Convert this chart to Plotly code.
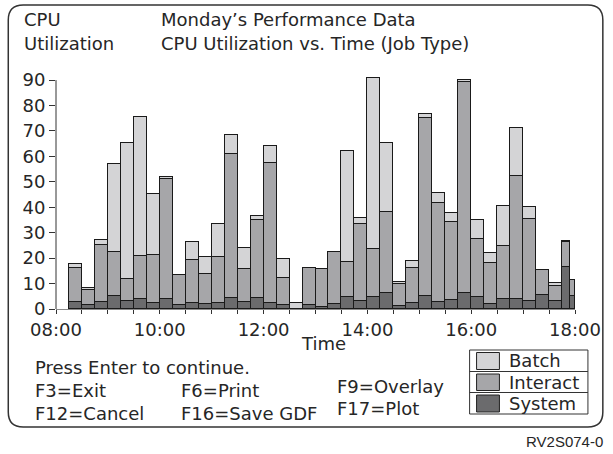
import plotly.graph_objects as go

# ---- data ----
start_times = ["08:15", "08:30", "08:45", "09:00", "09:15", "09:30", "09:45",
               "10:00", "10:15", "10:30", "10:45", "11:00", "11:15", "11:30",
               "11:45", "12:00", "12:15", "12:30", "12:45", "13:00", "13:15",
               "13:30", "13:45", "14:00", "14:15", "14:30", "14:45", "15:00",
               "15:15", "15:30", "15:45", "16:00", "16:15", "16:30", "16:45",
               "17:00", "17:15", "17:30", "17:45", "17:54"]
width_minutes = [15] * 38 + [9, 6]

system = [2.7, 1.5, 2.6, 5.1, 3.1, 4.1, 2.5, 3.9, 1.5, 2.3, 1.9, 2.4, 4.4, 2.8,
          4.4, 2.3, 1.4, 0.0, 1.6, 0.8, 1.9, 4.8, 3.3, 4.6, 6.3, 1.2, 2.2, 5.2,
          2.9, 3.7, 6.1, 4.8, 2.1, 3.9, 3.9, 3.3, 5.4, 3.3, 16.7, 5.2]
interact = [13.4, 5.8, 22.5, 17.3, 8.8, 16.7, 18.8, 47.3, 11.7, 16.8, 11.8,
            18.0, 56.4, 12.8, 30.7, 55.0, 10.6, 0.0, 14.5, 15.0, 20.5, 13.8,
            30.1, 19.1, 32.0, 8.6, 13.9, 70.0, 38.7, 30.4, 83.1, 22.8, 16.0,
            21.0, 48.4, 31.9, 9.9, 5.7, 9.7, 6.3]
batch = [1.7, 0.9, 2.0, 34.8, 53.2, 54.6, 24.0, 0.6, 0.0, 7.2, 6.8, 13.1, 7.5,
         8.5, 1.5, 6.7, 7.6, 2.4, 0.0, 0.0, 0.0, 43.5, 2.3, 67.2, 26.8, 0.8,
         2.7, 1.3, 3.9, 3.7, 0.8, 7.3, 3.9, 15.7, 18.7, 5.1, 0.0, 1.2, 0.5, 0.0]

x_tick_hours = [8 + 0.5 * i for i in range(21)]
x_tick_labels = ["08:00", "10:00", "12:00", "14:00", "16:00", "18:00"]
y_ticks = list(range(0, 91, 10))

series_names = ["System", "Interact", "Batch"]
series_colors = ["#6b6b6d", "#a6a6a9", "#d4d4d6"]

# ---- derived ----
def to_hours(t):
    h, m = t.split(":")
    return int(h) + int(m) / 60.0

xs = [to_hours(t) for t in start_times]
ws = [w / 60.0 for w in width_minutes]

W, H = 613, 454
L, R, T, B = 56, 35, 75, 145
PW, PH = W - L - R, H - T - B

def px(x):
    return (x - L) / PW

def py(y):
    return (H - B - y) / PH

FONT = "DejaVu Sans"
TXT = "#262626"

fig = go.Figure()
for name, vals, col in zip(series_names, [system, interact, batch], series_colors):
    fig.add_trace(go.Bar(
        x=xs, y=vals, width=ws, offset=0, name=name,
        marker=dict(color=col, line=dict(color="#1a1a1a", width=1)),
        showlegend=False,
    ))

tick_text = []
for h in x_tick_hours:
    lab = "%02d:00" % int(round(h))
    if abs(h - round(h)) < 1e-9 and lab in x_tick_labels:
        tick_text.append(lab)
    else:
        tick_text.append("")

fig.update_layout(
    width=W, height=H,
    margin=dict(l=L, r=R, t=T, b=B, pad=0),
    paper_bgcolor="white", plot_bgcolor="white",
    barmode="stack", bargap=0,
    font=dict(family=FONT, size=18, color=TXT),
    xaxis=dict(range=[8, 18], tickvals=x_tick_hours, ticktext=tick_text,
               ticks="outside", ticklen=4, tickcolor="#333333", tickwidth=1,
               showgrid=False, zeroline=False, showline=True,
               linecolor="#8a8a8a", linewidth=1,
               tickfont=dict(size=18, color=TXT, family=FONT)),
    yaxis=dict(range=[0, 92], tickvals=y_ticks,
               ticks="outside", ticklen=6, tickcolor="#333333", tickwidth=1,
               showgrid=False, zeroline=False, showline=False,
               tickfont=dict(size=18, color=TXT, family=FONT)),
)

shapes = []
# y axis line (0..90)
shapes.append(dict(type="line", xref="paper", yref="y", x0=0, x1=0, y0=0, y1=90,
                   line=dict(color="#333333", width=1)))

# rounded outer frame
x0, x1, y0, y1, r = 8, 606, 5, 427, 15
path = (f"M {px(x0 + r)},{py(y0)} L {px(x1 - r)},{py(y0)} "
        f"Q {px(x1)},{py(y0)} {px(x1)},{py(y0 + r)} "
        f"L {px(x1)},{py(y1 - r)} Q {px(x1)},{py(y1)} {px(x1 - r)},{py(y1)} "
        f"L {px(x0 + r)},{py(y1)} Q {px(x0)},{py(y1)} {px(x0)},{py(y1 - r)} "
        f"L {px(x0)},{py(y0 + r)} Q {px(x0)},{py(y0)} {px(x0 + r)},{py(y0)} Z")
shapes.append(dict(type="path", xref="paper", yref="paper", path=path,
                   line=dict(color="#333333", width=1.5)))

# legend box
lx0, lx1 = 472, 591
rows = [350, 371.5, 392.5, 414]
shapes.append(dict(type="rect", xref="paper", yref="paper",
                   x0=px(lx0), x1=px(lx1), y0=py(rows[0]), y1=py(rows[-1]),
                   line=dict(color="#333333", width=1)))
for yy in rows[1:3]:
    shapes.append(dict(type="line", xref="paper", yref="paper",
                       x0=px(lx0), x1=px(lx1), y0=py(yy), y1=py(yy),
                       line=dict(color="#333333", width=1)))
legend_items = list(zip(["Batch", "Interact", "System"],
                        [series_colors[2], series_colors[1], series_colors[0]]))
annotations = []
for i, (lab, col) in enumerate(legend_items):
    top, bot = rows[i] + 2.5, rows[i + 1] - 2
    shapes.append(dict(type="rect", xref="paper", yref="paper",
                       x0=px(479), x1=px(502), y0=py(top), y1=py(bot),
                       fillcolor=col, line=dict(color="#222222", width=1)))
    annotations.append(dict(text=lab, xref="paper", yref="paper",
                            x=px(510), y=py((rows[i] + rows[i + 1]) / 2),
                            xanchor="left", yanchor="middle", showarrow=False,
                            font=dict(size=18, color=TXT, family=FONT)))

def txt(s, x, y, anchor="left", size=18, family=FONT):
    annotations.append(dict(text=s, xref="paper", yref="paper", x=px(x), y=py(y),
                            xanchor=anchor, yanchor="middle", showarrow=False,
                            font=dict(size=size, color=TXT, family=family)))

txt("CPU", 22, 20)
txt("Utilization", 22, 43)
txt("Monday\u2019s Performance Data", 160, 20)
txt("CPU Utilization vs. Time (Job Type)", 160, 43)
txt("Time", 325, 343, anchor="center")
txt("Press Enter to continue.", 33, 367)
txt("F3=Exit", 33, 390)
txt("F12=Cancel", 33, 413)
txt("F6=Print", 180, 390)
txt("F16=Save GDF", 180, 413)
txt("F9=Overlay", 337, 386)
txt("F17=Plot", 337, 408)
txt("RV2S074-0", 608, 441, anchor="right", size=15, family="Liberation Sans")

fig.update_layout(shapes=shapes, annotations=annotations)
fig.write_html("out.html",
               config=dict(displayModeBar=False),
               post_script="document.body.style.margin='0px';"
                           "document.body.style.overflow='hidden';")
